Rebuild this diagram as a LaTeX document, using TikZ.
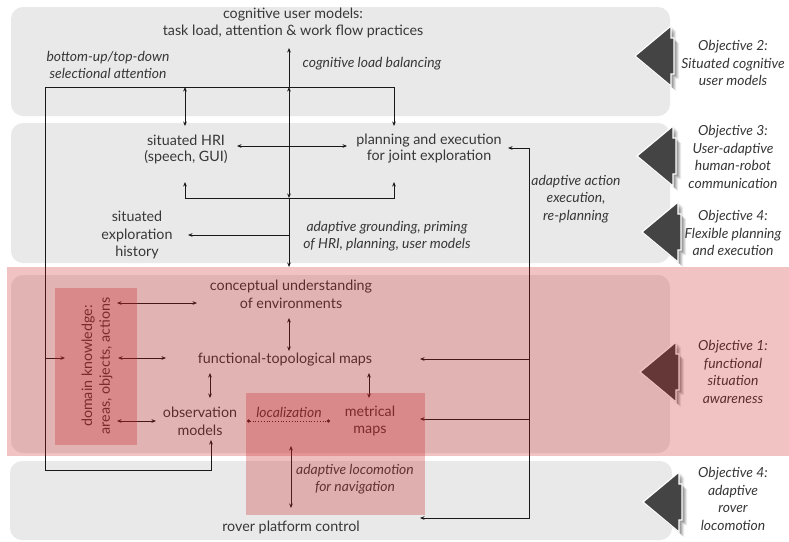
\documentclass[tikz,border=0pt]{standalone}
\usepackage{fontspec}
\setmainfont{Lato}
\usetikzlibrary{arrows.meta}
\definecolor{panel}{RGB}{233,233,233}
\definecolor{txt}{RGB}{55,55,55}
\definecolor{lin}{RGB}{25,25,25}
\definecolor{band}{RGB}{203,19,19}
\definecolor{boxred}{RGB}{200,40,40}
\definecolor{objfill}{RGB}{68,68,68}
\tikzset{
  panelbox/.style={fill=panel, rounded corners=12pt},
  lbl/.style={text=txt, align=center, inner sep=0pt, font=\fontsize{14.3}{17.8}\selectfont},
  tlbl/.style={text=txt, align=center, inner sep=0pt, font=\fontsize{14.3}{16}\selectfont},
  ilbl/.style={text=txt, align=center, inner sep=0pt, font=\fontsize{13.9}{17.6}\selectfont\itshape},
  conn/.style={draw=lin, line width=0.8pt, -{Stealth[length=4.5pt,width=3.6pt]}},
  dconn/.style={draw=lin, line width=0.8pt, {Stealth[length=4.5pt,width=3.6pt]}-{Stealth[length=4.5pt,width=3.6pt]}},
  objpath/.style={insert path={(0,0) -- (36,-30) -- (36,-18) -- (39,-18) -- (39,18) -- (36,18) -- (36,30) -- cycle}},
  objarr/.pic={
    \foreach \s/\o in {5/0.08, 4/0.10, 3/0.12, 2/0.14}{
      \fill[black, opacity=\o, shift={(\s,\s)}] [objpath];
    }
    \path[fill=objfill, draw=white, line width=1.2pt] [objpath];
  }
}
\begin{document}
\begin{tikzpicture}[x=1pt,y=-1pt]
\useasboundingbox (0,0) rectangle (789,541);
\fill[white] (0,0) rectangle (789,541);
% panels
\fill[panelbox] (11,7) rectangle (670,116);
\fill[panelbox] (11,123) rectangle (670,263);
\fill[panelbox] (11,275) rectangle (670,453);
\fill[panelbox] (10,461) rectangle (672,540);
% objective arrows
\pic at (635,56) {objarr};
\pic at (637,156) {objarr};
\pic at (642,232) {objarr};
\pic at (640,372) {objarr};
\pic at (643,502) {objarr};
% text nodes
\node[lbl] (cum) at (293,23) {cognitive user models:\\task load, attention \& work flow practices};
\node[ilbl] (bu) at (108,65) {bottom-up/top-down\\selectional attention};
\node[ilbl] (clb) at (372,64) {cognitive load balancing};
\node[tlbl] (hri) at (186,149) {situated HRI\\(speech, GUI)};
\node[tlbl] (plan) at (429,149) {planning and execution\\for joint exploration};
\node[ilbl] (aae) at (576,199) {adaptive action\\execution,\\re-planning};
\node[lbl] (seh) at (137,235) {situated\\exploration\\history};
\node[ilbl] (agp) at (387,236) {adaptive grounding, priming\\of HRI, planning, user models};
\node[lbl] (cue) at (291,294) {conceptual understanding\\of environments};
\node[lbl] (ftm) at (285,360) {functional-topological maps};
\node[lbl] (obs) at (200,421) {observation\\models};
\node[ilbl] (loc) at (289,412) {localization};
\node[lbl] (met) at (370,421) {metrical\\maps};
\node[ilbl] (alc) at (355,479) {adaptive locomotion\\for navigation};
\node[lbl] (rpc) at (291,527) {rover platform control};
\node[lbl, rotate=90] (dk) at (97,366) {domain knowledge:\\areas, objects, actions};
\node[ilbl] (o2) at (733,63) {Objective 2:\\Situated cognitive\\user models};
\node[ilbl] (o3) at (733,157) {Objective 3:\\User-adaptive\\human-robot\\communication};
\node[ilbl] (o4a) at (733,233) {Objective 4:\\Flexible planning\\and execution};
\node[ilbl] (o1) at (733,372) {Objective 1:\\functional\\situation\\awareness};
\node[ilbl] (o4b) at (733,499) {Objective 4:\\adaptive\\rover\\locomotion};
% coordinates
\coordinate (cumB) at (289,48);
\coordinate (jT) at (289,87);
\coordinate (jB) at (289,198);
\coordinate (cueT) at (289,267);
\coordinate (hriTop) at (185,87);
\coordinate (hriT) at (185,126);
\coordinate (hriB) at (185,182);
\coordinate (planT) at (394,126);
\coordinate (planB) at (394,182);
\coordinate (hriE) at (237,146);
\coordinate (planW) at (347,146);
\coordinate (sehE) at (188,235);
\coordinate (agpW) at (289,235);
\coordinate (obsB) at (211,440);
\coordinate (lbot) at (211,470);
\coordinate (lcorner) at (45,470);
\coordinate (ltop) at (45,87);
\coordinate (rtop) at (394,87);
\coordinate (hb1) at (185,198);
\coordinate (hb2) at (394,198);
\coordinate (dkIn) at (65,358);
\coordinate (lmid) at (45,358);
\coordinate (planE) at (508,148);
\coordinate (rtc) at (529,148);
\coordinate (rbc) at (529,518);
\coordinate (rpcE) at (420,518);
\coordinate (rm1) at (529,359);
\coordinate (ftmE) at (420,359);
\coordinate (rm2) at (529,419);
\coordinate (metE) at (420,419);
\coordinate (dkE1) at (117,303);
\coordinate (cueW) at (197,303);
\coordinate (cueB) at (289,318);
\coordinate (ftmT) at (289,351);
\coordinate (dkE2) at (118,358);
\coordinate (ftmW) at (166,358);
\coordinate (ftmB1) at (210,373);
\coordinate (obsT) at (210,398);
\coordinate (ftmB2) at (369,373);
\coordinate (metT) at (369,398);
\coordinate (dkE3) at (117,421);
\coordinate (obsW) at (156,421);
\coordinate (obsE) at (247,421);
\coordinate (metW) at (330,421);
\coordinate (locoT) at (291,446);
\coordinate (rpcT) at (291,508);
% connectors
\draw[conn] (jT) -- (cumB);
\draw[dconn] (jB) -- (jT);
\draw[conn] (jB) -- (cueT);
\draw[conn] (agpW) -- (sehE);
\draw[dconn] (hriE) -- (planW);
\draw[dconn] (hriB) -- (hb1) -- (hb2) -- (planB);
\draw[dconn] (hriTop) -- (hriT);
\draw[dconn] (obsB) -- (lbot) -- (lcorner) -- (ltop) -- (rtop) -- (planT);
\draw[conn] (lmid) -- (dkIn);
\draw[dconn] (planE) -- (rtc) -- (rbc) -- (rpcE);
\draw[conn] (rm1) -- (ftmE);
\draw[conn] (rm2) -- (metE);
\draw[dconn] (dkE1) -- (cueW);
\draw[dconn] (cueB) -- (ftmT);
\draw[dconn] (dkE2) -- (ftmW);
\draw[dconn] (ftmB1) -- (obsT);
\draw[dconn] (ftmB2) -- (metT);
\draw[dconn] (dkE3) -- (obsW);
\draw[draw=lin, line width=0.8pt, dotted, {Circle[length=3.2pt]}-{Circle[length=3.2pt]}] (obsE) -- (metW);
\draw[dconn] (locoT) -- (rpcT);
% red overlays
\fill[band, fill opacity=0.25] (7,267) rectangle (789,456);
\fill[boxred, fill opacity=0.3] (55,288) rectangle (137,445);
\fill[boxred, fill opacity=0.3] (246,393) rectangle (425,515);
\end{tikzpicture}
\end{document}
